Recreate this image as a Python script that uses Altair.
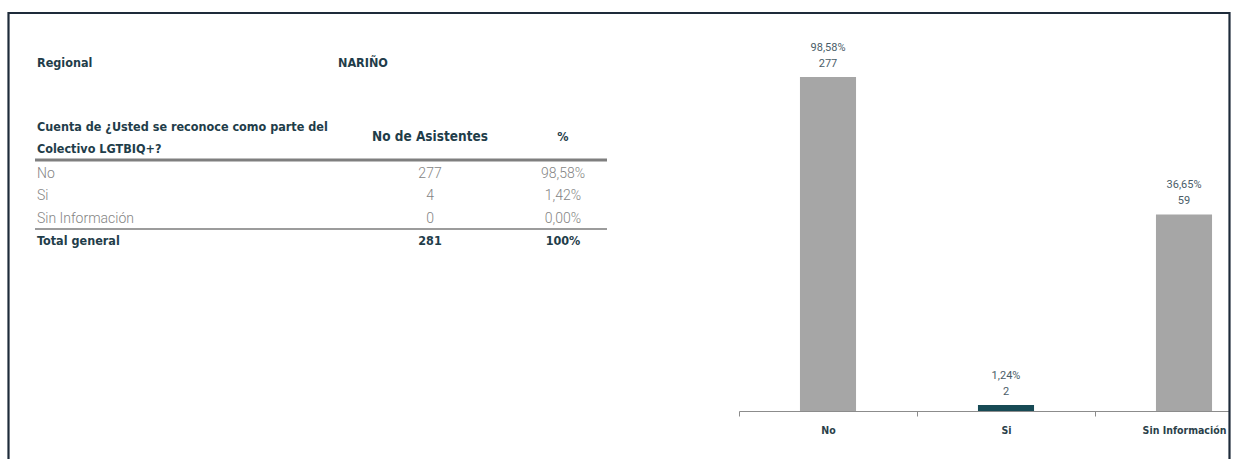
import altair as alt
import pandas as pd

# ---------------- data ----------------
categories = ["No", "Si", "Sin Información"]
table_counts = ["277", "4", "0"]
table_pcts = ["98,58%", "1,42%", "0,00%"]
total_label = ["Total general"]
total_count = ["281"]
total_pct = ["100%"]

bar_heights = [277, 5, 163]          # bar heights as drawn (axis units)
bar_pcts = ["98,58%", "1,24%", "36,65%"]
bar_counts = ["277", "2", "59"]

region_title = "Regional"
region_name = "NARIÑO"
question_header = "Cuenta de ¿Usted se reconoce como parte del\nColectivo LGTBIQ+?"
count_header = "No de Asistentes"
pct_header = "%"

# ---------------- styles ----------------
HEAD_FONT = "DejaVu Sans Condensed"
BODY_FONT = "Roboto"
DARK = "#1F3D4A"
GREY_TXT = "#848484"

rows_df = pd.DataFrame({"row": [0, 1, 2], "label": categories,
                        "count": table_counts, "pct": table_pcts})
total_df = pd.DataFrame({"row": [3], "label": total_label,
                         "count": total_count, "pct": total_pct})
bars_df = pd.DataFrame({"cat": categories, "h": bar_heights,
                        "pct": bar_pcts, "n": bar_counts})
one = pd.DataFrame({"k": [0]})

row_scale = alt.Scale(domain=[0, 3], range=[174, 241])

def head(txt, x, y, align="left", size=12.5):
    return alt.Chart(one).mark_text(
        text=txt, align=align, baseline="middle", font=HEAD_FONT,
        fontWeight="bold", fontSize=size, color=DARK, lineBreak="\n",
        lineHeight=21.5
    ).encode(x=alt.value(x), y=alt.value(y))

headers = [
    head(region_title, 37, 63),
    head(region_name, 338, 63),
    head(question_header, 37, 127),
    head(count_header, 430, 137, "center", 13.5),
    head(pct_header, 563, 137, "center"),
]

def col(df, field, x, align, weight, font, color, size):
    return alt.Chart(df).mark_text(
        align=align, baseline="middle", font=font, fontWeight=weight,
        fontSize=size, color=color
    ).encode(x=alt.value(x),
             y=alt.Y("row:Q", scale=row_scale, axis=None),
             text=f"{field}:N")

body = [
    col(rows_df, "label", 37, "left", 300, BODY_FONT, GREY_TXT, 14),
    col(rows_df, "count", 430, "center", 300, BODY_FONT, GREY_TXT, 14),
    col(rows_df, "pct", 563, "center", 300, BODY_FONT, GREY_TXT, 14),
    col(total_df, "label", 37, "left", "bold", HEAD_FONT, DARK, 12.5),
    col(total_df, "count", 430, "center", "bold", HEAD_FONT, DARK, 12.5),
    col(total_df, "pct", 563, "center", "bold", HEAD_FONT, DARK, 12.5),
]

thick_rule = alt.Chart(one).mark_rule(color="#7F7F7F", strokeWidth=3).encode(
    x=alt.value(35), x2=alt.value(607), y=alt.value(160))
thin_rule = alt.Chart(one).mark_rule(color="#3A3A3A", strokeWidth=1.2).encode(
    x=alt.value(35), x2=alt.value(607), y=alt.value(229))

x_scale = alt.Scale(domain=categories, range=[739, 1273],
                    paddingInner=0.685, paddingOuter=0.3425)
y_scale = alt.Scale(domain=[0, 277], range=[411, 77], nice=False)

x_axis = alt.Axis(orient="bottom", offset=-48, tickOffset=-89, labelOffset=89,
                  domainColor="#8C8C8C", tickColor="#8C8C8C", tickSize=5,
                  labelFont=HEAD_FONT, labelFontWeight="bold", labelFontSize=10.5,
                  labelColor="#2B3F4A", labelPadding=9, labelAngle=0,
                  title=None, grid=False)

x_enc = alt.X("cat:N", sort=categories, scale=x_scale, axis=x_axis)

bars = alt.Chart(bars_df).mark_bar().encode(
    x=x_enc,
    y=alt.Y("h:Q", scale=y_scale, axis=None),
    color=alt.Color("cat:N", scale=alt.Scale(domain=categories,
                    range=["#A6A6A6", "#174A55", "#A6A6A6"]), legend=None),
)

bar_labels = alt.Chart(bars_df).transform_calculate(
    lbl="datum.pct + '\\n' + datum.n"
).mark_text(baseline="bottom", dy=-24, lineBreak="\n", lineHeight=16,
            font=BODY_FONT, fontSize=11, color="#4A5D68").encode(
    x=x_enc,
    y=alt.Y("h:Q", scale=y_scale, axis=None),
    text="lbl:N",
)

# white margin outside the frame on the right (hides the overflowing axis line)
outside = alt.Chart(one).mark_rect(fill="white").encode(
    x=alt.value(1230), x2=alt.value(1240), y=alt.value(0), y2=alt.value(459))

border = alt.Chart(one).mark_rect(fill="white", fillOpacity=0,
                                  stroke="#1E2B3A", strokeWidth=2.2).encode(
    x=alt.value(8.5), x2=alt.value(1229.5), y=alt.value(13), y2=alt.value(490))

chart = alt.layer(
    *headers, *body, thick_rule, thin_rule, bars, bar_labels, outside, border
).resolve_scale(y="independent").properties(
    width=1235, height=459, padding=0,
    autosize=alt.AutoSizeParams(type="none"),
    background="white",
).configure_view(stroke=None)

chart.save("out.html", embed_options={"renderer": "svg", "actions": False})
